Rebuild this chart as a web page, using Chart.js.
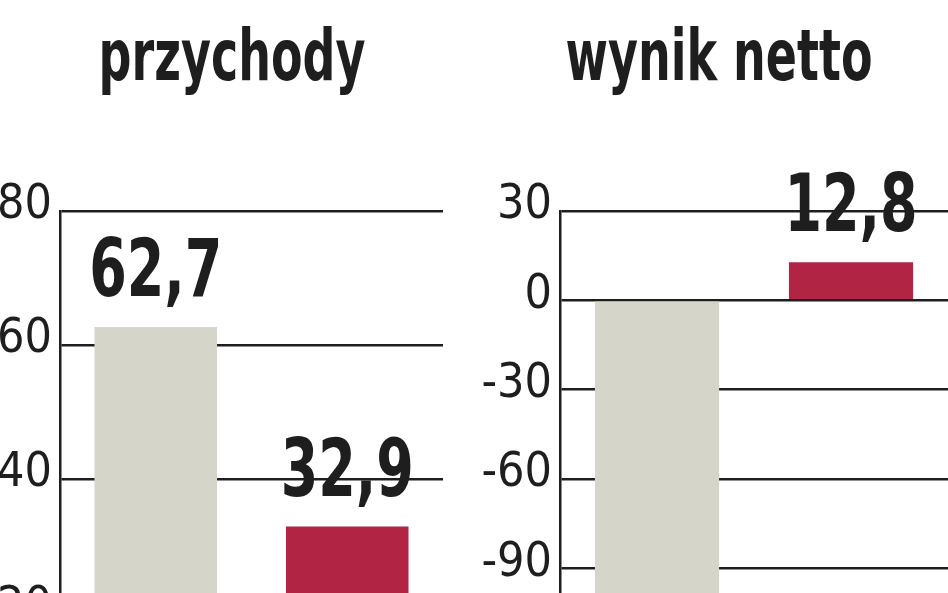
<!DOCTYPE html>
<html>
<head>
<meta charset="utf-8">
<script src="https://cdn.jsdelivr.net/npm/chart.js@4"></script>
<style>
  html, body { margin: 0; padding: 0; background: #fff; overflow: hidden; width: 948px; height: 593px; }
  #wrap { position: relative; width: 948px; height: 593px; overflow: hidden; }
  canvas { position: absolute; top: 0; }
  #revenue { left: 0; }
  #netResult { left: 470px; }
</style>
</head>
<body>
<div id="wrap">
  <canvas id="revenue" width="464" height="790"></canvas>
  <canvas id="netResult" width="478" height="790"></canvas>
</div>
<script>
// bottom of the original chart is cut off, category names are not visible
var periods = ['2011', '2012'];
var revenue = [62.7, 32.9];      // przychody
var netResult = [-118, 12.8];   // wynik netto (first bar runs off the picture)
var barColors = ['#d5d5ca', '#b22443'];

var ink = '#1e1e1e';
var narrow = '"DejaVu Sans Condensed", "Liberation Sans Narrow", sans-serif';

// the original uses a tall, very narrow face -> draw wider glyphs squeezed horizontally
function squeezedText(ctx, txt, x, y, font, sx, baseline) {
	ctx.save();
	ctx.font = font;
	ctx.fillStyle = ink;
	ctx.textAlign = 'center';
	ctx.textBaseline = baseline;
	ctx.translate(x, y);
	ctx.scale(sx, 1);
	ctx.fillText(txt, 0, 0);
	ctx.restore();
}

// panel heading
var panelTitle = {
	id: 'panelTitle',
	afterDraw: function(chart, args, opts) {
		squeezedText(chart.ctx, opts.text, opts.x, 80, 'bold 72px ' + narrow, 0.71, 'alphabetic');
	}
};

// value above (or below) each bar, with a decimal comma
var valueLabels = {
	id: 'valueLabels',
	afterDatasetsDraw: function(chart) {
		var meta = chart.getDatasetMeta(0);
		var values = chart.data.datasets[0].data;
		meta.data.forEach(function(bar, i) {
			var txt = values[i].toFixed(1).replace('.', ',');
			if (values[i] >= 0) {
				squeezedText(chart.ctx, txt, bar.x, bar.y - 31, 'bold 80px ' + narrow, 0.75, 'alphabetic');
			} else {
				squeezedText(chart.ctx, txt, bar.x, bar.y + 20, 'bold 80px ' + narrow, 0.75, 'top');
			}
		});
	}
};

function makePanel(id, title, titleX, values, min, max, step, axisWidth, padRight) {
	return new Chart(document.getElementById(id), {
		type: 'bar',
		data: {
			labels: periods,
			datasets: [{
				data: values,
				backgroundColor: barColors,
				borderWidth: 0,
				categoryPercentage: 1,
				barPercentage: 0.64
			}]
		},
		options: {
			responsive: false,
			animation: false,
			layout: { padding: { top: 211, right: padRight, bottom: 43, left: 0 } },
			plugins: {
				legend: { display: false },
				tooltip: { enabled: false },
				title: { display: false },
				panelTitle: { text: title, x: titleX }
			},
			scales: {
				x: { display: false },
				y: {
					min: min,
					max: max,
					afterFit: function(scale) { scale.width = axisWidth; },
					border: { display: true, color: ink, width: 2.5 },
					grid: { color: ink, lineWidth: 2.5, drawTicks: false },
					ticks: {
						stepSize: step,
						padding: 8,
						labelOffset: -5,
						color: ink,
						font: { family: narrow, size: 48 }
					}
				}
			}
		},
		plugins: [valueLabels, panelTitle]
	});
}

var revenueChart = makePanel('revenue', 'przychody', 232, revenue, 0, 80, 20, 60, 21);
var netChart = makePanel('netResult', 'wynik netto', 249, netResult, -150, 30, 30, 90, 0);
</script>
</body>
</html>
